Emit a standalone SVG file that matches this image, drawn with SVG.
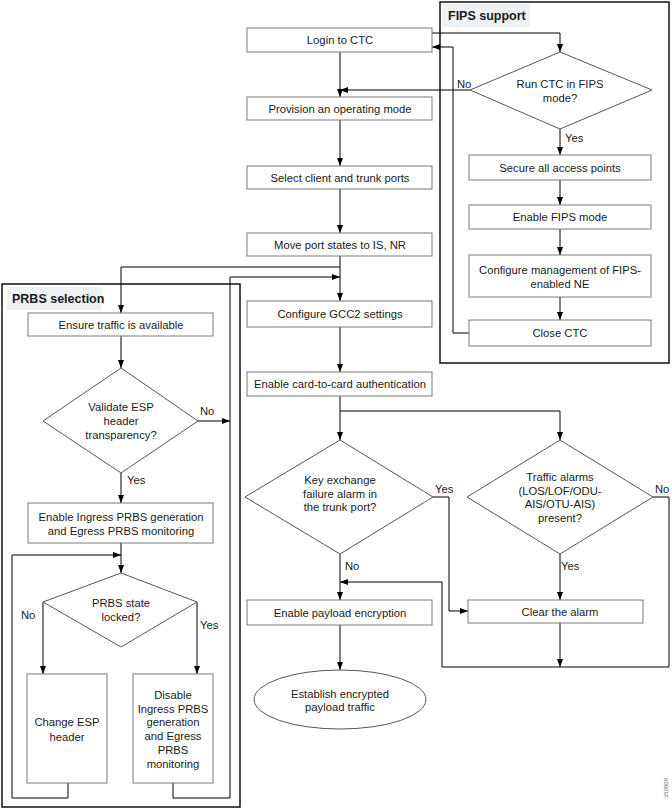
<svg xmlns="http://www.w3.org/2000/svg" width="672" height="809" viewBox="0 0 672 809">
<defs>
<marker id="ah" viewBox="0 0 8 8" refX="8" refY="4" markerWidth="8" markerHeight="8" orient="auto" markerUnits="userSpaceOnUse"><path d="M0,1 L8,4 L0,7 z" fill="#000"/></marker>
<style>
.box{fill:#fff;stroke:#7a7a7a;stroke-width:1}
.dia{fill:#fff;stroke:#555;stroke-width:1}
.frame{fill:none;stroke:#111;stroke-width:1.5}
.tbg{fill:#eef2f5;stroke:none}
.t{font-family:"Liberation Sans",Arial,sans-serif;font-size:11.25px;fill:#1a1a1a;text-anchor:middle}
.lbl{font-family:"Liberation Sans",Arial,sans-serif;font-size:11.25px;fill:#1a1a1a}
.title{font-family:"Liberation Sans",Arial,sans-serif;font-size:12.5px;font-weight:bold;fill:#1a1a1a}
.c{fill:none;stroke:#000;stroke-width:1}
</style>
</defs>
<rect width="672" height="809" fill="#fff"/>

<!-- Frames -->
<g id="fips-frame">
<rect class="frame" x="440" y="2" width="229" height="361"/>
<rect class="tbg" x="442" y="4" width="88" height="23"/>
<text class="title" x="448" y="20">FIPS support</text>
</g>
<g id="prbs-frame">
<rect class="frame" x="2" y="284" width="238" height="523"/>
<rect class="tbg" x="7" y="287" width="95" height="23"/>
<text class="title" x="12" y="303">PRBS selection</text>
</g>

<!-- Connectors -->
<g id="connectors">
<path class="c" d="M432,33 H560 V52" marker-end="url(#ah)"/>
<path class="c" d="M340,52 V97" marker-end="url(#ah)"/>
<path class="c" d="M470,90 H340" marker-end="url(#ah)"/>
<path class="c" d="M560,129 V155" marker-end="url(#ah)"/>
<path class="c" d="M560,180 V205" marker-end="url(#ah)"/>
<path class="c" d="M560,229 V255" marker-end="url(#ah)"/>
<path class="c" d="M560,297 V320" marker-end="url(#ah)"/>
<path class="c" d="M469,333 H453 V47 H432" marker-end="url(#ah)"/>
<path class="c" d="M340,120 V166" marker-end="url(#ah)"/>
<path class="c" d="M340,189 V233" marker-end="url(#ah)"/>
<path class="c" d="M340,256 V301" marker-end="url(#ah)"/>
<path class="c" d="M340,267 H121 V313" marker-end="url(#ah)"/>
<path class="c" d="M340,327 V372" marker-end="url(#ah)"/>
<path class="c" d="M340,396 V440" marker-end="url(#ah)"/>
<path class="c" d="M340,411 H560 V440" marker-end="url(#ah)"/>
<path class="c" d="M433,497 H449 V611 H468" marker-end="url(#ah)"/>
<path class="c" d="M340,554 V600" marker-end="url(#ah)"/>
<path class="c" d="M560,554 V600" marker-end="url(#ah)"/>
<path class="c" d="M653,497 H669 V667 H442 V582 H340" marker-end="url(#ah)"/>
<path class="c" d="M560,623 V667" marker-end="url(#ah)"/>
<path class="c" d="M340,625 V670" marker-end="url(#ah)"/>
<path class="c" d="M121,336 V368" marker-end="url(#ah)"/>
<path class="c" d="M198,421 H230" marker-end="url(#ah)"/>
<path class="c" d="M121,473 V503" marker-end="url(#ah)"/>
<path class="c" d="M121,543 V573" marker-end="url(#ah)"/>
<path class="c" d="M43,602 V674" marker-end="url(#ah)"/>
<path class="c" d="M197,602 V674" marker-end="url(#ah)"/>
<path class="c" d="M68,783 V798 H12 V555 H121" marker-end="url(#ah)"/>
<path class="c" d="M173,783 V798 H230 V277 H340" marker-end="url(#ah)"/>
<text class="lbl" x="457" y="88">No</text>
<text class="lbl" x="565" y="142">Yes</text>
<text class="lbl" x="200" y="415">No</text>
<text class="lbl" x="127" y="484">Yes</text>
<text class="lbl" x="21" y="619">No</text>
<text class="lbl" x="200" y="629">Yes</text>
<text class="lbl" x="435" y="493">Yes</text>
<text class="lbl" x="655" y="493">No</text>
<text class="lbl" x="345" y="570">No</text>
<text class="lbl" x="561" y="570">Yes</text>
</g>

<!-- Main column -->
<g id="login"><rect class="box" x="247" y="28" width="185" height="24"/><text class="t" x="340" y="44">Login to CTC</text></g>
<g id="provision"><rect class="box" x="247" y="97" width="185" height="23"/><text class="t" x="340" y="112.5">Provision an operating mode</text></g>
<g id="select"><rect class="box" x="247" y="166" width="185" height="23"/><text class="t" x="340" y="181.5">Select client and trunk ports</text></g>
<g id="move"><rect class="box" x="247" y="233" width="185" height="23"/><text class="t" x="340" y="248.5">Move port states to IS, NR</text></g>
<g id="gcc2"><rect class="box" x="247" y="301" width="185" height="26"/><text class="t" x="340" y="317.5">Configure GCC2 settings</text></g>
<g id="card"><rect class="box" x="247" y="372" width="185" height="24"/><text class="t" x="340" y="388">Enable card-to-card authentication</text></g>
<g id="keyx"><polygon class="dia" points="340,440 433,497 340,554 245,497"/>
<text class="t" x="340" y="484">Key exchange</text><text class="t" x="340" y="497.5">failure alarm in</text><text class="t" x="340" y="511">the trunk port?</text></g>
<g id="traffic"><polygon class="dia" points="560,440 653,497 560,554 467,497"/>
<text class="t" x="560" y="481">Traffic alarms</text><text class="t" x="560" y="494.5">(LOS/LOF/ODU-</text><text class="t" x="560" y="508">AIS/OTU-AIS)</text><text class="t" x="560" y="521.5">present?</text></g>
<g id="payload"><rect class="box" x="247" y="600" width="185" height="25"/><text class="t" x="340" y="616.5">Enable payload encryption</text></g>
<g id="clear"><rect class="box" x="468" y="600" width="175" height="23"/><text class="t" x="560" y="615.5">Clear the alarm</text></g>
<g id="establish"><ellipse cx="340" cy="699.5" rx="86" ry="29.5" fill="#fff" stroke="#555"/>
<text class="t" x="340" y="698">Establish encrypted</text><text class="t" x="340" y="711">payload traffic</text></g>

<!-- FIPS -->
<g id="runfips"><polygon class="dia" points="560,52 652,90 560,129 470,90"/>
<text class="t" x="560" y="88">Run CTC in FIPS</text><text class="t" x="560" y="102">mode?</text></g>
<g id="secure"><rect class="box" x="469" y="155" width="182" height="25"/><text class="t" x="560" y="171.5">Secure all access points</text></g>
<g id="enablefips"><rect class="box" x="469" y="205" width="182" height="24"/><text class="t" x="560" y="221">Enable FIPS mode</text></g>
<g id="configmgmt"><rect class="box" x="469" y="255" width="182" height="42"/><text class="t" x="560" y="274">Configure management of FIPS-</text><text class="t" x="560" y="288">enabled NE</text></g>
<g id="closectc"><rect class="box" x="469" y="320" width="182" height="26"/><text class="t" x="560" y="337">Close CTC</text></g>

<!-- PRBS -->
<g id="ensure"><rect class="box" x="28" y="313" width="185" height="23"/><text class="t" x="121" y="328.5">Ensure traffic is available</text></g>
<g id="validate"><polygon class="dia" points="121,368 198,421 121,473 43,421"/>
<text class="t" x="121" y="411">Validate ESP</text><text class="t" x="121" y="425">header</text><text class="t" x="121" y="438.5">transparency?</text></g>
<g id="enableingress"><rect class="box" x="28" y="503" width="185" height="40"/><text class="t" x="121" y="521">Enable Ingress PRBS generation</text><text class="t" x="121" y="535">and Egress PRBS monitoring</text></g>
<g id="prbsstate"><polygon class="dia" points="121,573 197,602 121,647 43,602"/>
<text class="t" x="121" y="607">PRBS state</text><text class="t" x="121" y="621">locked?</text></g>
<g id="changeesp"><rect class="box" x="27" y="674" width="80" height="109"/><text class="t" x="67" y="726">Change ESP</text><text class="t" x="67" y="741">header</text></g>
<g id="disable"><rect class="box" x="133" y="674" width="80" height="109"/>
<text class="t" x="173" y="699">Disable</text><text class="t" x="173" y="712.5">Ingress PRBS</text><text class="t" x="173" y="726">generation</text><text class="t" x="173" y="740">and Egress</text><text class="t" x="173" y="754">PRBS</text><text class="t" x="173" y="767.5">monitoring</text></g>

<text x="668" y="798" transform="rotate(-90 668 798)" font-family="Liberation Sans, Arial, sans-serif" font-size="6" fill="#777">350808</text>
</svg>
